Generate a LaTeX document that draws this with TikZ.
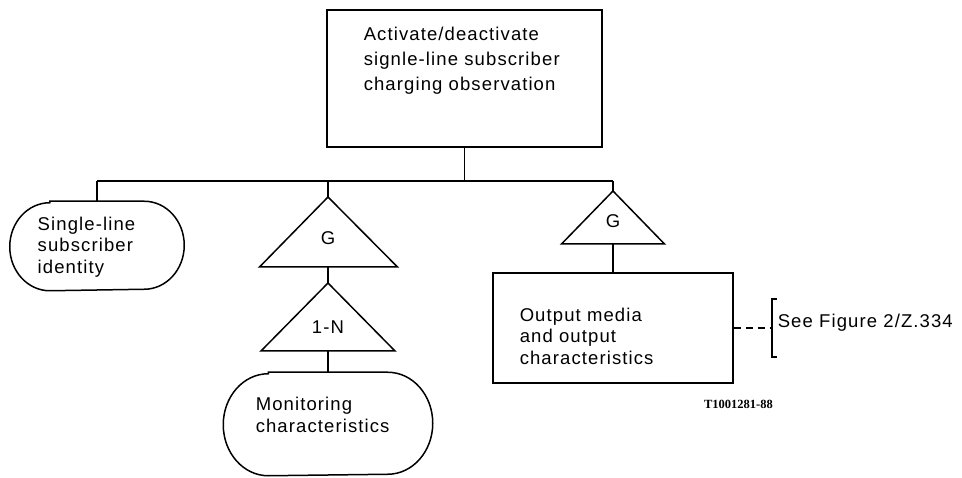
\documentclass[tikz,border=0pt]{standalone}
\usepackage{fontspec}
\setmainfont{Liberation Sans}[LetterSpace=6]
\newfontfamily\tnumfont{Liberation Serif}
\usetikzlibrary{calc}
\begin{document}
\begin{tikzpicture}[x=1pt,y=1pt,line width=1.5pt,
  txt/.style={inner sep=0pt,align=left,anchor=west,font=\fontsize{18.5}{21.5}\selectfont},
  toptxt/.style={txt,font=\fontsize{18.5}{25}\selectfont},
  lbl/.style={inner sep=0pt,font=\fontsize{18.5}{21.5}\selectfont},
  frame/.style={draw,inner sep=0pt},
  ghost/.style={inner sep=0pt,draw=none},
  dashline/.style={dash pattern=on 7pt off 5pt},
  brk/.style={line width=2.6pt}]
\useasboundingbox (0,0) rectangle (962,477);

% top box
\node[frame,minimum width=275pt,minimum height=137pt] (act) at (464.5,398.5) {};
\node[toptxt] (acttxt) at (363,416) {Activate/deactivate\\signle-line subscriber\\charging observation};

% bus
\coordinate (busL) at (97,296);
\coordinate (busR) at (613,296);
\draw (busL) -- (busR);
\draw (act.south) -- (act.south |- busL);

% left capsule
\node[ghost,minimum width=173pt,minimum height=88pt] (ident) at (97,231) {};
\draw ($(ident.north west)+(40,0)$) -- ($(ident.north east)+(-40,0)$)
  arc[start angle=90,end angle=-90,x radius=40,y radius=44]
  -- ($(ident.south west)+(40,0)$)
  arc[start angle=270,end angle=90,x radius=40,y radius=44] -- cycle;
\node[txt] (identtxt) at (37,230) {Single-line\\subscriber\\identity};
\draw (ident.north) -- (ident.north |- busL);

% middle G triangle
\coordinate (g1apex) at (328,280);
\coordinate (g1base) at (328,210);
\draw (g1apex) -- (259.5,210) -- (397.5,210) -- cycle;
\node[lbl] (g1) at (328,239) {G};
\draw (g1apex) -- (g1apex |- busL);

% 1-N triangle
\coordinate (nApex) at (328,194);
\coordinate (nBase) at (328,126);
\draw (nApex) -- (261,126) -- (395,126) -- cycle;
\node[lbl] (oneN) at (328,150) {1-N};
\draw (g1base) -- (nApex);

% monitoring capsule
\node[ghost,minimum width=208pt,minimum height=102pt] (mon) at (328,53) {};
\draw ($(mon.north west)+(45,0)$) -- ($(mon.north east)+(-45,0)$)
  arc[start angle=90,end angle=-90,x radius=45,y radius=51]
  -- ($(mon.south west)+(45,0)$)
  arc[start angle=270,end angle=90,x radius=45,y radius=51] -- cycle;
\node[txt] (montxt) at (255,62) {Monitoring\\characteristics};
\draw (nBase) -- (mon.north);

% right G triangle
\coordinate (g2apex) at (613,286);
\coordinate (g2base) at (613,233);
\draw (g2apex) -- (561.5,233) -- (664.5,233) -- cycle;
\node[lbl] (g2) at (613,256) {G};
\draw (g2apex) -- (busR);

% output box
\node[frame,minimum width=240pt,minimum height=110pt] (out) at (613,149) {};
\node[txt] (outtxt) at (519,141) {Output media\\and output\\characteristics};
\draw (g2base) -- (out.north);

% reference bracket
\coordinate (brT) at (772,178);
\coordinate (brB) at (772,120);
\coordinate (brM) at (772,149);
\draw[brk] ($(brT)+(5,0)$) -- (brT) -- (brB) -- ($(brB)+(5,0)$);
\draw[dashline] (out.east) -- (brM);
\node[lbl,anchor=west] (see) at (777,154) {See Figure 2/Z.334};

% figure number
\node[inner sep=0pt,font=\tnumfont\bfseries\fontsize{12.5}{14}\selectfont] (fignum) at (738.5,73) {T1001281-88};
\end{tikzpicture}
\end{document}
